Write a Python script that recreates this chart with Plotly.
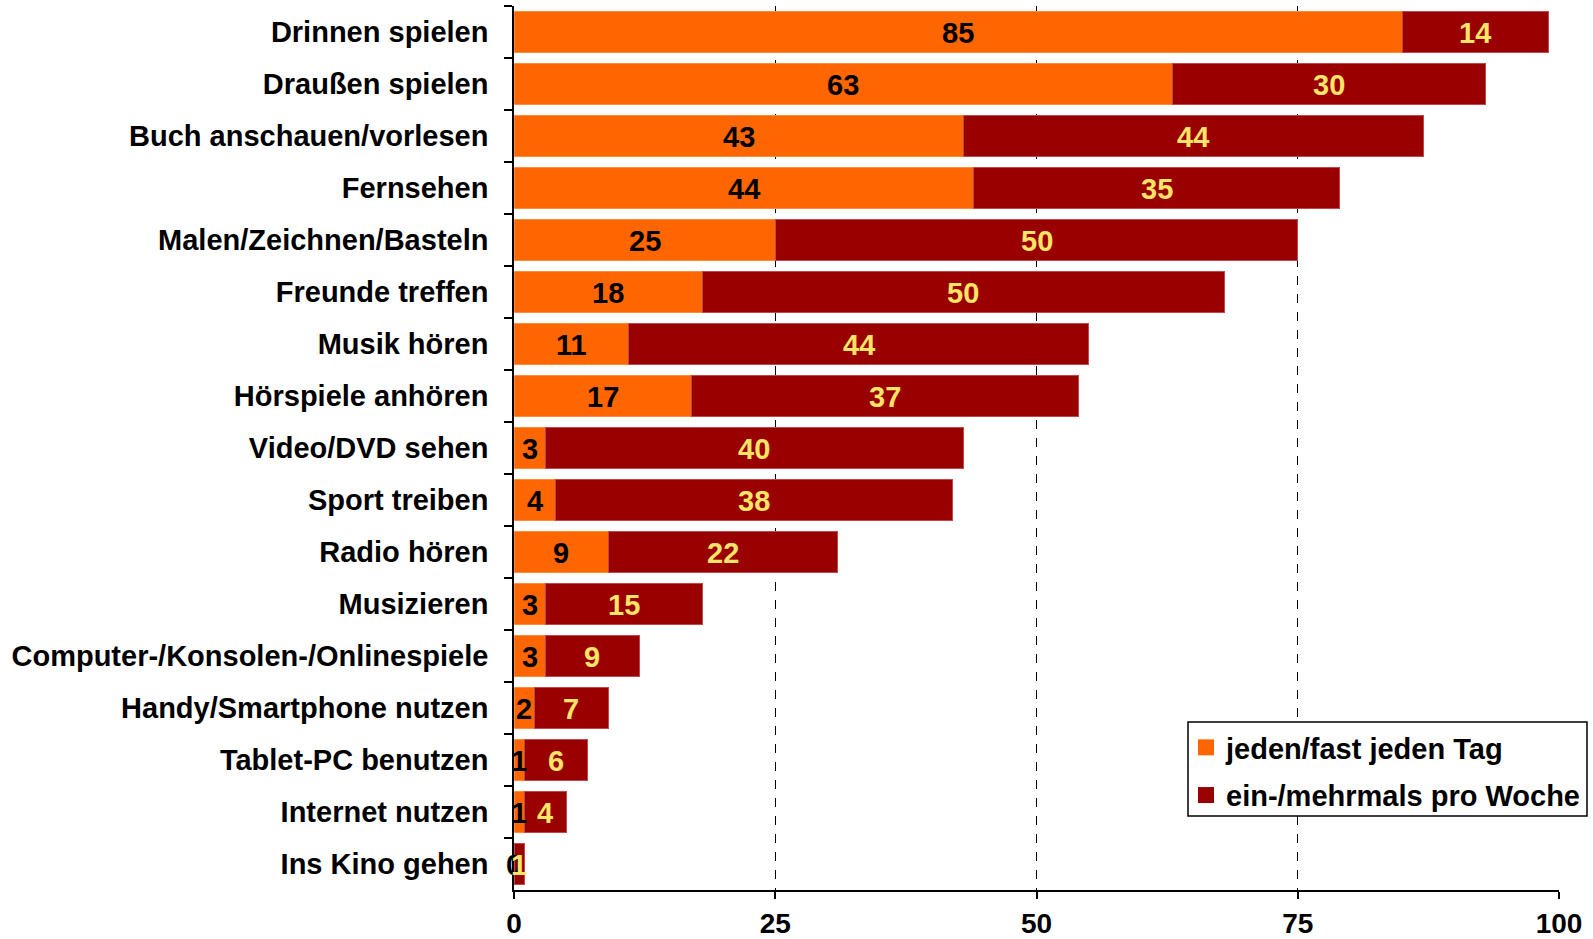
import plotly.graph_objects as go

categories = [
    "Drinnen spielen", "Draußen spielen", "Buch anschauen/vorlesen", "Fernsehen",
    "Malen/Zeichnen/Basteln", "Freunde treffen", "Musik hören", "Hörspiele anhören",
    "Video/DVD sehen", "Sport treiben", "Radio hören", "Musizieren",
    "Computer-/Konsolen-/Onlinespiele", "Handy/Smartphone nutzen", "Tablet-PC benutzen",
    "Internet nutzen", "Ins Kino gehen",
]
daily = [85, 63, 43, 44, 25, 18, 11, 17, 3, 4, 9, 3, 3, 2, 1, 1, 0]
weekly = [14, 30, 44, 35, 50, 50, 44, 37, 40, 38, 22, 15, 9, 7, 6, 4, 1]
series_names = ["jeden/fast jeden Tag", "ein-/mehrmals pro Woche"]
x_ticks = [0, 25, 50, 75, 100]

ORANGE = "#FF6600"
RED = "#990000"
YELLOW = "#FFE468"
FONT = "Liberation Sans"
FS = 29

fig = go.Figure()
fig.add_trace(go.Bar(
    y=categories, x=daily, orientation="h", name=series_names[0], showlegend=False,
    marker=dict(color=ORANGE, line=dict(color="#FF8A3D", width=1)),
))
fig.add_trace(go.Bar(
    y=categories, x=weekly, orientation="h", name=series_names[1], showlegend=False,
    marker=dict(color=RED, line=dict(color="#C04848", width=1)),
))

# legend entries (square swatches)
for name, col, grp in [(series_names[0], ORANGE, "a"), (series_names[1], RED, "b")]:
    fig.add_trace(go.Scatter(
        x=[None], y=[None], mode="markers", name=name, legendgroup=grp,
        marker=dict(symbol="square", size=16, color=col),
        showlegend=True,
    ))

# data labels centred in each segment
annotations = []
for cat, d, w in zip(categories, daily, weekly):
    annotations.append(dict(
        x=d / 2, y=cat, xref="x", yref="y", text=str(d), showarrow=False,
        yshift=-1, font=dict(family=FONT, size=FS, color="black", weight="bold"),
    ))
    annotations.append(dict(
        x=d + w / 2, y=cat, xref="x", yref="y", text=str(w), showarrow=False,
        yshift=-1, font=dict(family=FONT, size=FS, color=YELLOW, weight="bold"),
    ))

# legend frame
L = 514
R = 1559
T = 6
B = 890
pw = R - L
ph = B - T
shapes = [dict(
    type="rect", xref="paper", yref="paper", layer="above",
    x0=(1188 - L) / pw, x1=(1587 - L) / pw,
    y0=(B - 816) / ph, y1=(B - 722) / ph,
    fillcolor="white", line=dict(color="black", width=1.5),
)]

fig.update_layout(
    barmode="stack",
    bargap=0.21,
    width=1593, height=939,
    margin=dict(l=L, r=1593 - R, t=T, b=939 - B),
    plot_bgcolor="white", paper_bgcolor="white",
    font=dict(family=FONT, size=FS, color="black", weight="bold"),
    annotations=annotations,
    shapes=shapes,
    legend=dict(
        x=(1186 - L) / pw, y=(B - 722) / ph, xanchor="left", yanchor="top",
        bgcolor="rgba(0,0,0,0)", borderwidth=0,
        traceorder="grouped", tracegroupgap=7,
        font=dict(family=FONT, size=FS, color="black", weight="bold"),
        itemwidth=30,
    ),
    showlegend=True,
)
fig.update_xaxes(
    range=[0, 100], tickvals=x_ticks, ticktext=[str(v) for v in x_ticks],
    showgrid=True, gridcolor="black", griddash="dash", gridwidth=1,
    showline=True, linecolor="black", linewidth=1.5,
    ticks="outside", ticklen=7, tickcolor="black", tickwidth=1.5,
    ticklabelstandoff=1, zeroline=False, automargin=False,
    tickfont=dict(family=FONT, size=28, color="black", weight="bold"),
)
fig.update_yaxes(
    categoryorder="array", categoryarray=categories, range=[16.5, -0.5],
    showline=True, linecolor="black", linewidth=1.5,
    ticks="outside", ticklen=8, tickcolor="black", tickwidth=1.5,
    tickson="boundaries", ticklabelstandoff=18, showgrid=False, automargin=False,
    tickfont=dict(family=FONT, size=FS, color="black", weight="bold"),
)

fig.write_html("out.html", post_script="document.body.style.margin='0';",
               config={"displayModeBar": False})
